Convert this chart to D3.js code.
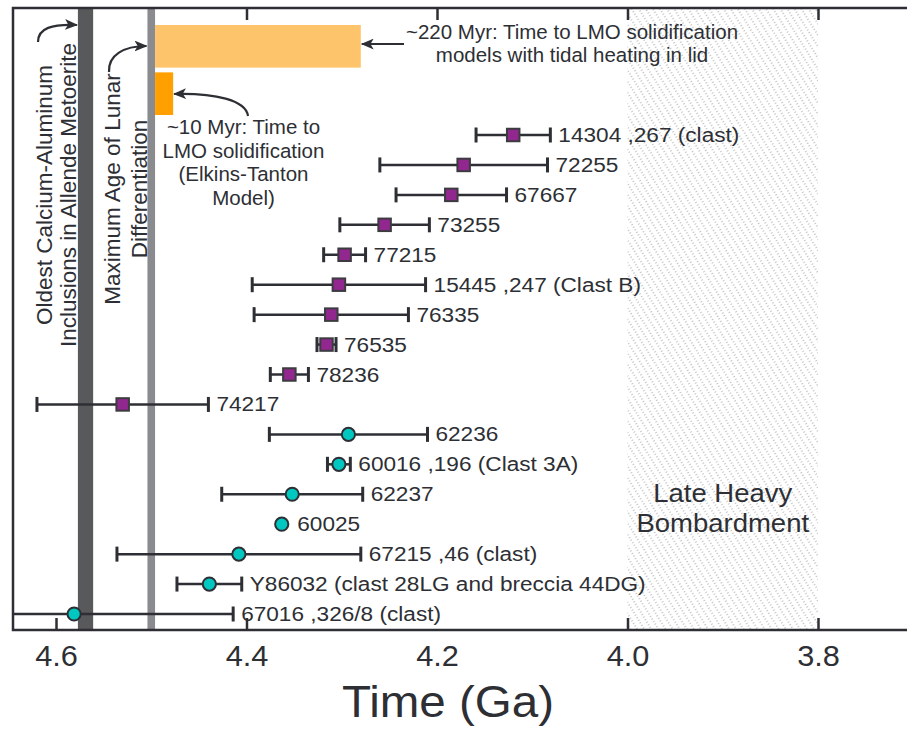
<!DOCTYPE html>
<html>
<head>
<meta charset="utf-8">
<script src="https://cdn.jsdelivr.net/npm/d3@7"></script>
<style>
  body { margin: 0; background: #fff; }
  svg text { font-family: "Liberation Sans", Arial, Helvetica, sans-serif; fill: #2d2f34; }
</style>
</head>
<body>
<div id="vizcontainer"></div>
<script>
const
  width = 907,
  height = 729;

// lunar samples, top to bottom
const samples = [
  '14304 ,267 (clast)', '72255', '67667', '73255', '77215',
  '15445 ,247 (Clast B)', '76335', '76535', '78236', '74217',
  '62236', '60016 ,196 (Clast 3A)', '62237', '60025',
  '67215 ,46 (clast)', 'Y86032 (clast 28LG and breccia 44DG)', '67016 ,326/8 (clast)'
];
const ages = [4.12, 4.172, 4.185, 4.255, 4.297, 4.303, 4.311, 4.316, 4.355, 4.53,
  4.293, 4.303, 4.352, 4.363, 4.408, 4.439, 4.581];
const errs = [0.039, 0.088, 0.058, 0.047, 0.022, 0.091, 0.081, 0.01, 0.02, 0.09,
  0.083, 0.012, 0.074, 0, 0.128, 0.034, 0.167];
const suites = ['Mg', 'Mg', 'Mg', 'Mg', 'Mg', 'Mg', 'Mg', 'Mg', 'Mg', 'Mg',
  'FAN', 'FAN', 'FAN', 'FAN', 'FAN', 'FAN', 'FAN'];

// reference events (Ga)
const caiBand = [4.577, 4.561];
const diffBand = [4.504, 4.496];
const lhbBand = [4.0, 3.8];
const lmoModels = ['tidal', 'elkins'];
const lmoStart = [4.496, 4.496];
const lmoEnd = [4.28, 4.477];

const tickLabels = [4.6, 4.4, 4.2, 4.0, 3.8];
const bottomTicks = [4.6, 4.4, 4.0, 3.8];
const topTicks = [4.4, 4.2, 4.0, 3.8];

const ink = '#2d2f34';
const plot = { left: 13, right: width, top: 8, bottom: 630 };

let viz = d3.select('#vizcontainer')
  .append('svg')
  .attr('width', width)
  .attr('height', height);

const x = d3.scaleLinear()
  .domain([4.6, 3.8])
  .range([56, 818]);

const y = d3.scalePoint()
  .domain(samples)
  .range([135, 614]);

const yBar = d3.scaleBand()
  .domain(lmoModels)
  .range([25, 115])
  .paddingInner(0.1);

const data = samples.map((s, i) => ({ name: s, age: ages[i], err: errs[i], suite: suites[i] }));

// stretch text horizontally around its x anchor
function stretch(sel, sx) {
  sel.attr('transform', function () {
    const x0 = +this.getAttribute('x') || 0;
    return `translate(${x0 * (1 - sx)},0) scale(${sx},1)`;
  });
}

const defs = viz.append('defs');

const hatch = defs.append('pattern')
  .attr('id', 'hatch')
  .attr('patternUnits', 'userSpaceOnUse')
  .attr('width', 6)
  .attr('height', 6)
  .attr('patternTransform', 'rotate(-32)');
hatch.append('line')
  .attr('x1', 3).attr('y1', 0)
  .attr('x2', 3).attr('y2', 6)
  .attr('stroke', '#8e8e8e')
  .attr('stroke-width', 1)
  .attr('stroke-dasharray', '1 2');

defs.append('clipPath')
  .attr('id', 'plotclip')
  .append('rect')
  .attr('x', plot.left)
  .attr('y', plot.top)
  .attr('width', plot.right - plot.left)
  .attr('height', plot.bottom - plot.top);

defs.append('marker')
  .attr('id', 'arrow')
  .attr('viewBox', '0 0 12 10')
  .attr('refX', 11)
  .attr('refY', 5)
  .attr('markerWidth', 13)
  .attr('markerHeight', 11)
  .attr('markerUnits', 'userSpaceOnUse')
  .attr('orient', 'auto')
  .append('path')
  .attr('d', 'M0,0 L12,5 L0,10 L3,5 Z')
  .attr('fill', ink);

// Late Heavy Bombardment
viz.append('rect')
  .attr('x', x(lhbBand[0]))
  .attr('y', plot.top)
  .attr('width', x(lhbBand[1]) - x(lhbBand[0]))
  .attr('height', plot.bottom - plot.top)
  .attr('fill', 'url(#hatch)');

// CAI and differentiation bands
viz.append('rect')
  .attr('x', x(caiBand[0]))
  .attr('y', plot.top)
  .attr('width', x(caiBand[1]) - x(caiBand[0]))
  .attr('height', plot.bottom - plot.top)
  .attr('fill', '#58595b');

viz.append('rect')
  .attr('x', x(diffBand[0]))
  .attr('y', plot.top)
  .attr('width', x(diffBand[1]) - x(diffBand[0]))
  .attr('height', plot.bottom - plot.top)
  .attr('fill', '#898b8e');

// LMO solidification bars
viz.append('g')
  .selectAll('rect')
  .data(lmoModels)
  .join('rect')
  .attr('x', (d, i) => x(lmoStart[i]))
  .attr('y', d => yBar(d))
  .attr('width', (d, i) => x(lmoEnd[i]) - x(lmoStart[i]))
  .attr('height', yBar.bandwidth())
  .attr('fill', (d, i) => i === 0 ? '#fdc46c' : '#ff9f00');

// error bars
const eb = viz.append('g')
  .attr('clip-path', 'url(#plotclip)')
  .attr('stroke', ink)
  .attr('stroke-width', 2.5);

eb.selectAll('line.bar')
  .data(data.filter(d => d.err > 0))
  .join('line')
  .attr('class', 'bar')
  .attr('x1', d => x(d.age + d.err))
  .attr('x2', d => x(d.age - d.err))
  .attr('y1', d => y(d.name))
  .attr('y2', d => y(d.name));

eb.selectAll('line.cap')
  .data(data.filter(d => d.err > 0).flatMap(d => [[d, d.age + d.err], [d, d.age - d.err]]))
  .join('line')
  .attr('class', 'cap')
  .attr('x1', d => x(d[1]))
  .attr('x2', d => x(d[1]))
  .attr('y1', d => y(d[0].name) - 7.5)
  .attr('y2', d => y(d[0].name) + 7.5)
  .attr('stroke-width', 3);

// markers
viz.append('g')
  .selectAll('rect')
  .data(data.filter(d => d.suite === 'Mg'))
  .join('rect')
  .attr('x', d => x(d.age) - 6.25)
  .attr('y', d => y(d.name) - 6.25)
  .attr('width', 12.5)
  .attr('height', 12.5)
  .attr('fill', '#92278f')
  .attr('stroke', '#3c3c40')
  .attr('stroke-width', 2);

viz.append('g')
  .selectAll('circle')
  .data(data.filter(d => d.suite === 'FAN'))
  .join('circle')
  .attr('cx', d => x(d.age))
  .attr('cy', d => y(d.name))
  .attr('r', 6.6)
  .attr('fill', '#00c7c0')
  .attr('stroke', ink)
  .attr('stroke-width', 2);

// sample labels
viz.append('g')
  .selectAll('text')
  .data(data)
  .join('text')
  .attr('x', d => Math.max(x(d.age - d.err), x(d.age) + 7.5) + 8)
  .attr('y', d => y(d.name))
  .attr('dy', '0.36em')
  .attr('font-size', 19.5)
  .text(d => d.name)
  .call(stretch, 1.16);

// Late Heavy Bombardment label
const lhbText = viz.append('text')
  .attr('x', x((lhbBand[0] + lhbBand[1]) / 2))
  .attr('y', 502)
  .attr('text-anchor', 'middle')
  .attr('font-size', 25);
lhbText.append('tspan').attr('x', x((lhbBand[0] + lhbBand[1]) / 2)).attr('y', 502).text('Late Heavy');
lhbText.append('tspan').attr('x', x((lhbBand[0] + lhbBand[1]) / 2)).attr('y', 532).text('Bombardment');
lhbText.call(stretch, 1.1);

// model annotations
const note220 = ['~220 Myr: Time to LMO solidification', 'models with tidal heating in lid'];
viz.append('g')
  .selectAll('text')
  .data(note220)
  .join('text')
  .attr('x', 572)
  .attr('y', (d, i) => 39 + i * 23)
  .attr('text-anchor', 'middle')
  .attr('font-size', 20.5)
  .text(d => d);

const note10 = ['~10 Myr: Time to', 'LMO solidification', '(Elkins-Tanton', 'Model)'];
viz.append('g')
  .selectAll('text')
  .data(note10)
  .join('text')
  .attr('x', 243.5)
  .attr('y', (d, i) => 134 + i * 23.5)
  .attr('text-anchor', 'middle')
  .attr('font-size', 20.5)
  .text(d => d);

// rotated band labels
const vLabels = [
  { lines: ['Oldest Calcium-Aluminum', 'Inclusions in Allende Metoerite'], x: [52, 76], y: 195 },
  { lines: ['Maximum Age of Lunar', 'Differentiation'], x: [120, 146.5], y: 189 }
];
vLabels.forEach(v => {
  v.lines.forEach((t, i) => {
    viz.append('text')
      .attr('transform', `translate(${v.x[i]},${v.y}) rotate(-90)`)
      .attr('text-anchor', 'middle')
      .attr('font-size', 22.5)
      .text(t);
  });
});

// arrows
const arrows = [
  `M38,42 C38,28 52,24 ${x(caiBand[0]) - 1},25`,
  `M109,72 C108,55 124,46 ${x(diffBand[0]) - 1},46`,
  `M248,116 C246,100 215,93 ${x(lmoEnd[1]) + 1},94`,
  `M404,44 L${x(lmoEnd[0]) + 1},44`
];
viz.append('g')
  .selectAll('path')
  .data(arrows)
  .join('path')
  .attr('d', d => d)
  .attr('fill', 'none')
  .attr('stroke', ink)
  .attr('stroke-width', 2.2)
  .attr('marker-end', 'url(#arrow)');

// axes
const bottomLabels = viz.append('g')
  .attr('transform', `translate(0,${plot.bottom})`)
  .call(d3.axisBottom(x).tickValues(tickLabels).tickSize(0).tickPadding(15.5).tickFormat(d3.format('.1f')));
bottomLabels.select('.domain').remove();
bottomLabels.selectAll('text')
  .attr('font-size', 29)
  .call(stretch, 1.06);

const bottomAxis = viz.append('g')
  .attr('transform', `translate(0,${plot.bottom})`)
  .call(d3.axisBottom(x).tickValues(bottomTicks).tickSizeInner(-12).tickSizeOuter(0).tickFormat(''));
bottomAxis.select('.domain').remove();
bottomAxis.selectAll('line').attr('stroke', ink).attr('stroke-width', 2.5);

const topAxis = viz.append('g')
  .attr('transform', `translate(0,${plot.top})`)
  .call(d3.axisTop(x).tickValues(topTicks).tickSizeInner(-12).tickSizeOuter(0).tickFormat(''));
topAxis.select('.domain').remove();
topAxis.selectAll('line').attr('stroke', ink).attr('stroke-width', 2.5);

// frame
viz.append('path')
  .attr('d', `M${plot.right},${plot.top} H${plot.left} V${plot.bottom} H${plot.right}`)
  .attr('fill', 'none')
  .attr('stroke', ink)
  .attr('stroke-width', 2.5);

viz.append('text')
  .attr('x', 448)
  .attr('y', 717)
  .attr('text-anchor', 'middle')
  .attr('font-size', 44)
  .text('Time (Ga)')
  .call(stretch, 1.08);
</script>
</body>
</html>
